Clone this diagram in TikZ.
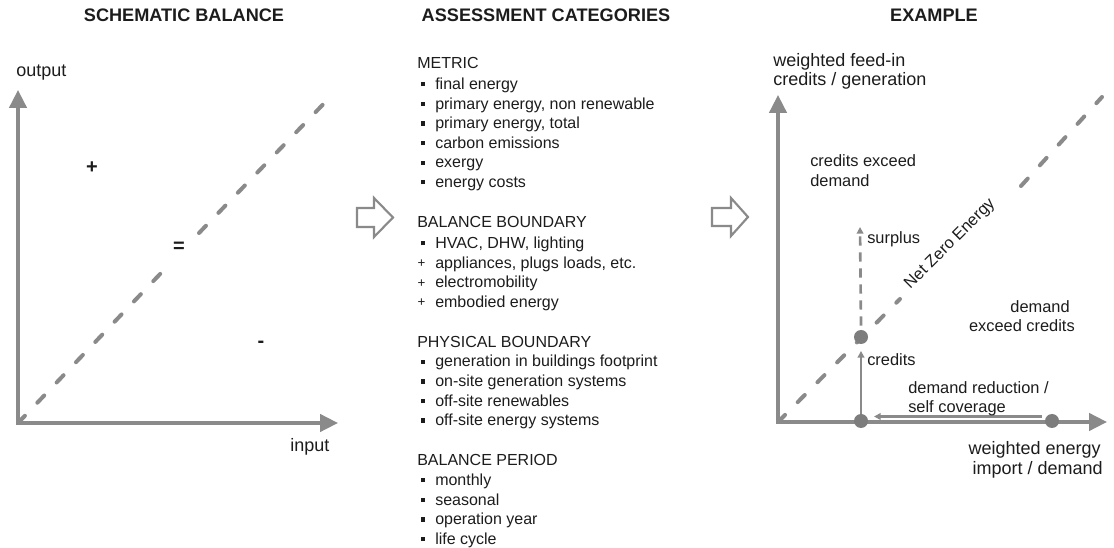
\documentclass[tikz,border=0pt]{standalone}
\usepackage{fontspec}
\setmainfont{Liberation Sans}
\usetikzlibrary{arrows.meta}

\definecolor{axisgray}{RGB}{138,138,138}
\definecolor{dotgray}{RGB}{125,125,125}
\definecolor{ink}{RGB}{28,28,28}

% list markers
\newcommand\sqbul{\makebox[13.5pt][l]{\hspace*{2.5pt}\rule[2.3pt]{3.2pt}{3.2pt}}}
\newcommand\plusbul{\makebox[13.5pt][l]{\hspace*{0.3pt}\raisebox{0.3pt}{\fontsize{10}{10}\selectfont +}}}

\begin{document}
\begin{tikzpicture}[x=0.75pt,y=-0.75pt,
  title/.style={font=\fontsize{13.6}{16}\selectfont\bfseries, text=ink, inner sep=0pt, anchor=base},
  axlabel/.style={font=\fontsize{13.5}{16}\selectfont, text=ink, inner sep=0pt},
  lbl/.style={font=\fontsize{12.3}{15}\selectfont, text=ink, inner sep=0pt},
  sign/.style={font=\fontsize{15}{17}\selectfont\bfseries, text=ink, inner sep=0pt},
  listline/.style={font=\fontsize{12}{15}\selectfont, text=ink, inner sep=0pt, anchor=base west},
  axis/.style={draw=axisgray, line width=2.6pt, line cap=rect,
    -{Triangle[length=13.5pt,width=13pt]}},
  zeroline/.style={draw=axisgray, line width=3pt, line cap=round, dash pattern=on 7.5pt off 13.5pt},
  thinarrow/.style={draw=axisgray, line width=1.6pt, -{Triangle[length=5pt,width=5pt]}},
  surplusarrow/.style={draw=axisgray, line width=2pt,
    dash pattern=on 7pt off 5pt, -{Triangle[length=5pt,width=5pt]}},
  dot/.style={circle, fill=dotgray, minimum size=10.5pt, inner sep=0pt},
  blockarrow/.style={draw=axisgray, line width=1.6pt, fill=white, line join=miter},
]
\useasboundingbox (0,0) rectangle (1114,548);

% ---------------- titles ----------------
\node[title] (t1) at (184,22) {SCHEMATIC BALANCE};
\node[title] (t2) at (546,22) {ASSESSMENT CATEGORIES};
\node[title] (t3) at (934,22) {EXAMPLE};

% ---------------- schematic balance ----------------
\coordinate (O1) at (18,423);
\coordinate (Y1) at (18,90);
\coordinate (X1) at (338,423);
\coordinate (g1a) at (162,272);
\coordinate (g1b) at (199,233);
\coordinate (D1) at (335,92);
\draw[zeroline] (O1) -- (g1a);
\draw[zeroline] (g1b) -- (D1);
\draw[axis] (O1) -- (Y1);
\draw[axis] (O1) -- (X1);
\node[axlabel, anchor=base west] (outlbl) at (16,77) {output};
\node[axlabel, anchor=base west] (inlbl) at (290,452) {input};
\node[sign] (plus) at (92,168) {+};
\node[sign] (equal) at (179,247) {=};
\node[sign] (minus) at (261,344) {-};

% ---------------- block arrows ----------------
\draw[blockarrow] (357,208) -- (374,208) -- (374,198) -- (393,217.5)
  -- (374,237) -- (374,227) -- (357,227) -- cycle;
\draw[blockarrow] (712,208) -- (731,208) -- (731,198) -- (748,217)
  -- (731,236) -- (731,226) -- (712,226) -- cycle;

% ---------------- assessment categories ----------------
\node[listline] (h1) at (417,69) {METRIC};
\node[listline] (m1) at (417,89.5)  {\sqbul final energy};
\node[listline] (m2) at (417,109.1) {\sqbul primary energy, non renewable};
\node[listline] (m3) at (417,128.7) {\sqbul primary energy, total};
\node[listline] (m4) at (417,148.3) {\sqbul carbon emissions};
\node[listline] (m5) at (417,167.9) {\sqbul exergy};
\node[listline] (m6) at (417,187.5) {\sqbul energy costs};

\node[listline] (h2) at (417,228) {BALANCE BOUNDARY};
\node[listline] (b1) at (417,248.5) {\sqbul HVAC, DHW, lighting};
\node[listline] (b2) at (417,268.1) {\plusbul appliances, plugs loads, etc.};
\node[listline] (b3) at (417,287.7) {\plusbul electromobility};
\node[listline] (b4) at (417,307.3) {\plusbul embodied energy};

\node[listline] (h3) at (417,347.5) {PHYSICAL BOUNDARY};
\node[listline] (p1) at (417,367)   {\sqbul generation in buildings footprint};
\node[listline] (p2) at (417,386.6) {\sqbul on-site generation systems};
\node[listline] (p3) at (417,406.2) {\sqbul off-site renewables};
\node[listline] (p4) at (417,425.8) {\sqbul off-site energy systems};

\node[listline] (h4) at (417,466) {BALANCE PERIOD};
\node[listline] (r1) at (417,485.5) {\sqbul monthly};
\node[listline] (r2) at (417,505.1) {\sqbul seasonal};
\node[listline] (r3) at (417,524.7) {\sqbul operation year};
\node[listline] (r4) at (417,544.3) {\sqbul life cycle};

% ---------------- example ----------------
\coordinate (O2) at (778,422);
\coordinate (Y2) at (778,95);
\coordinate (X2) at (1107,422);
\coordinate (g2a) at (900,299);
\coordinate (g2b) at (1021,186);
\coordinate (D2) at (1102,97);
\draw[zeroline] (O2) -- (g2a);
\draw[zeroline] (g2b) -- (D2);
\draw[axis] (O2) -- (Y2);
\draw[axis] (O2) -- (X2);

\node[lbl, anchor=base, rotate=45] (nze) at (953,247) {Net Zero Energy};

\node[dot] (dBase) at (861,421) {};
\node[dot] (dCred) at (861,337) {};
\node[dot] (dDem) at (1052,421) {};

\coordinate (sTip) at (860,227);
\draw[surplusarrow] (dCred.north) ++(0,-4) coordinate (sStart) (sStart) -- (sTip);
\draw[thinarrow, shorten >=5pt] (dBase) -- (dCred);
\coordinate (drS) at (1042,416.5);
\coordinate (drE) at (874,416.5);
\draw[thinarrow] (drS) -- (drE);

\node[axlabel, anchor=base west] (yl1) at (773,67) {weighted feed-in};
\node[axlabel, anchor=base west] (yl2) at (773,86) {credits / generation};
\node[axlabel, anchor=base east] (xl1) at (1101,455) {weighted energy};
\node[axlabel, anchor=base east] (xl2) at (1103,475) {import / demand};

\node[lbl, anchor=base west] (ce1) at (810,167) {credits exceed};
\node[lbl, anchor=base west] (ce2) at (810,187) {demand};
\node[lbl, anchor=base west] (sur) at (867,244) {surplus};
\node[lbl, anchor=base east] (de1) at (1070,313) {demand};
\node[lbl, anchor=base east] (de2) at (1075,332) {exceed credits};
\node[lbl, anchor=base west] (cr) at (867,366) {credits};
\node[lbl, anchor=base west] (dr1) at (908,394) {demand reduction /};
\node[lbl, anchor=base west] (dr2) at (908,413) {self coverage};

\end{tikzpicture}
\end{document}
